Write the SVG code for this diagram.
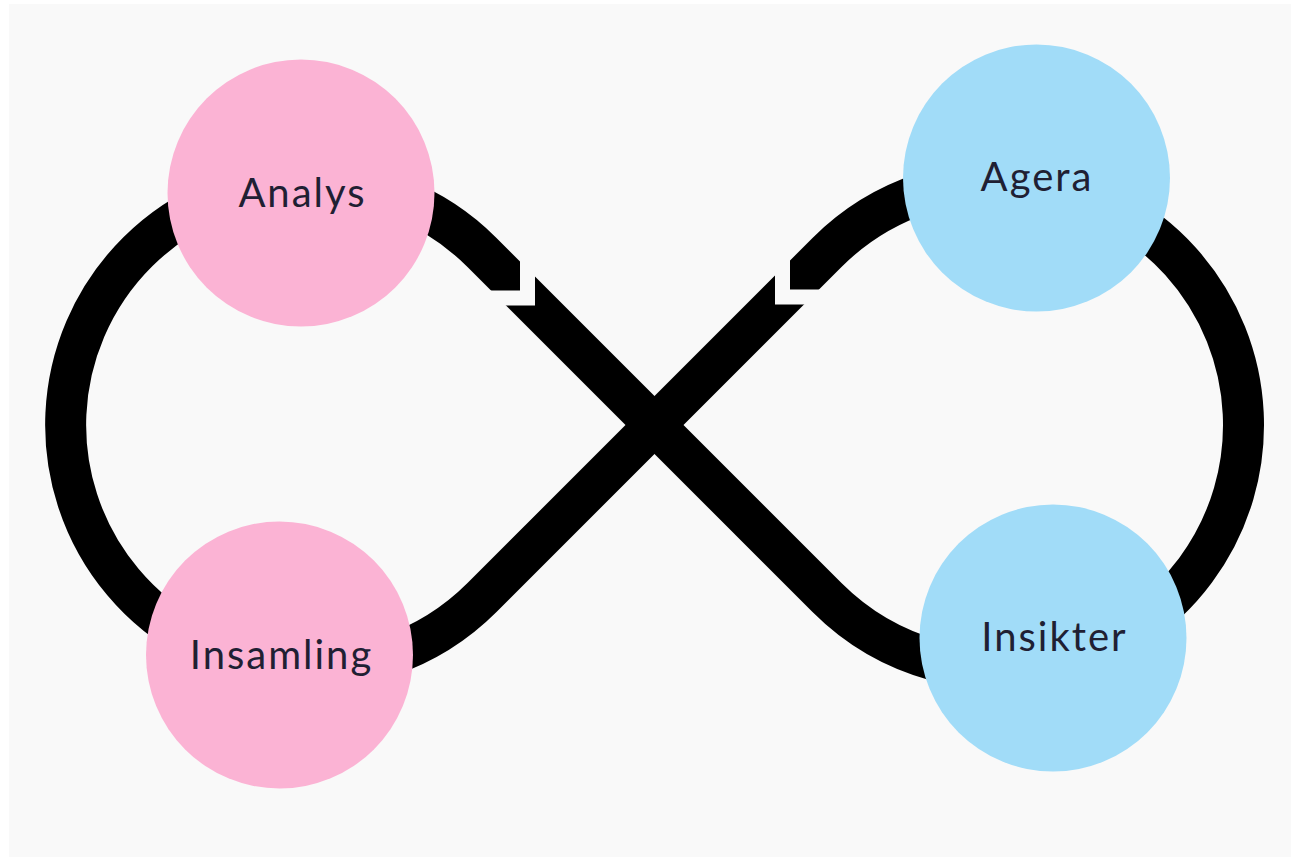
<svg xmlns="http://www.w3.org/2000/svg" width="1293" height="857" viewBox="0 0 1293 857">
  <style>
    .bg { fill: #f9f9f9; }
    .flow { fill: none; stroke: #000000; stroke-width: 41; stroke-linecap: butt; }
    .pink { fill: #fbb3d4; }
    .blue { fill: #a1dcf8; }
    .label { font-family: Lato, "Liberation Sans", sans-serif; font-size: 40px; fill: #1f2033; text-anchor: middle; letter-spacing: 2px; }
  </style>
  <defs>
    <mask id="gaps" maskUnits="userSpaceOnUse" x="0" y="0" width="1293" height="857">
      <rect x="0" y="0" width="1293" height="857" fill="#ffffff"/>
      <polygon points="520,235 520,290.5 470,290.5 470,305.5 535,305.5 535,235" fill="#000000"/>
      <polygon points="790,235 790,289.5 840,289.5 840,304.5 775,304.5 775,235" fill="#000000"/>
    </mask>
  </defs>
  <rect x="0" y="0" width="1293" height="857" fill="#ffffff"/>
  <rect class="bg" x="9" y="4" width="1282" height="853"/>
  <g id="connectors" mask="url(#gaps)">
    <path id="insamling-analys" class="flow" d="M278.46,667 A244,244 0 0 1 300.57,181.17"/>
    <path id="analys-insikter" class="flow" d="M300.57,181.17 A244,244 0 0 1 482,252.5 L827,597.5 A244,244 0 0 0 1058.94,661.66"/>
    <path id="insikter-agera" class="flow" d="M1058.94,661.66 A244,244 0 0 0 1035.64,183.7"/>
    <path id="agera-insamling" class="flow" d="M1035.64,183.7 A244,244 0 0 0 827,252.5 L482,597.5 A244,244 0 0 1 278.46,667"/>
  </g>
  <g id="node-analys">
    <circle class="pink" cx="301" cy="193" r="133.5"/>
    <text class="label" x="302.5" y="207">Analys</text>
  </g>
  <g id="node-insamling">
    <circle class="pink" cx="279.5" cy="655" r="133.5"/>
    <text class="label" x="281.5" y="669">Insamling</text>
  </g>
  <g id="node-agera">
    <circle class="blue" cx="1036.5" cy="178" r="133.5"/>
    <text class="label" x="1037" y="191">Agera</text>
  </g>
  <g id="node-insikter">
    <circle class="blue" cx="1053" cy="638" r="133.5"/>
    <text class="label" x="1054.5" y="651">Insikter</text>
  </g>
</svg>
